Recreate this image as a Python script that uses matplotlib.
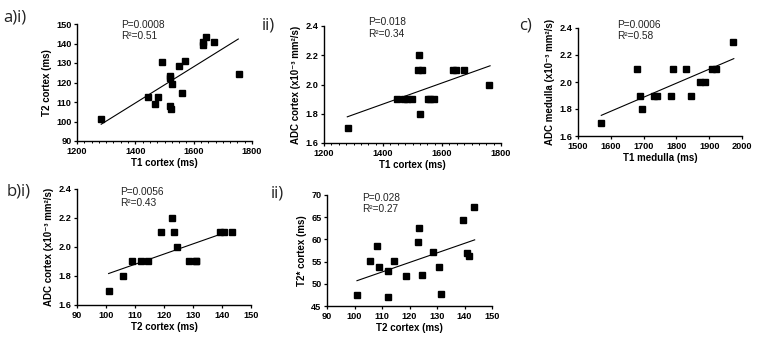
import numpy as np
import matplotlib
matplotlib.use('Agg')
import matplotlib.pyplot as plt
from matplotlib.ticker import MultipleLocator, FormatStrFormatter

plt.rcParams['font.family'] = ['Liberation Sans', 'DejaVu Sans']

# a)i  T1 cortex vs T2 cortex
t1_ai = [1281, 1445, 1469, 1479, 1493, 1518, 1519, 1520, 1522, 1526, 1549, 1560, 1569, 1632, 1633, 1643, 1670, 1754]
t2_ai = [101.2, 112.4, 108.9, 112.4, 130.7, 123.4, 122.5, 108.0, 106.2, 119.0, 128.5, 114.6, 131.1, 140.7, 139.3, 143.3, 140.7, 124.4]
fit_ai_x = [1283, 1753]
fit_ai_y = [98.6, 142.3]

# a)ii  T1 cortex vs ADC cortex
t1_aii = [1282, 1446, 1472, 1480, 1497, 1520, 1521, 1525, 1531, 1551, 1559, 1574, 1636, 1647, 1675, 1759]
adc_aii = [1.7, 1.9, 1.9, 1.9, 1.9, 2.1, 2.2, 1.8, 2.1, 1.9, 1.9, 1.9, 2.1, 2.1, 2.1, 2.0]
fit_aii_x = [1279, 1763]
fit_aii_y = [1.779, 2.128]

# c)  T1 medulla vs ADC medulla
t1_c = [1571, 1681, 1690, 1695, 1732, 1740, 1784, 1791, 1828, 1845, 1871, 1886, 1909, 1920, 1974]
adc_c = [1.7, 2.1, 1.9, 1.8, 1.9, 1.9, 1.9, 2.1, 2.1, 1.9, 2.0, 2.0, 2.1, 2.1, 2.3]
fit_c_x = [1571, 1975]
fit_c_y = [1.753, 2.173]

# b)i  T2 cortex vs ADC cortex
t2_bi = [100.9, 105.9, 108.9, 112.2, 114.4, 118.9, 122.9, 123.3, 124.4, 128.5, 130.9, 131.2, 139.3, 140.8, 143.3]
adc_bi = [1.7, 1.8, 1.9, 1.9, 1.9, 2.1, 2.2, 2.1, 2.0, 1.9, 1.9, 1.9, 2.1, 2.1, 2.1]
fit_bi_x = [100.9, 138.9]
fit_bi_y = [1.817, 2.084]

# b)ii  T2 cortex vs T2* cortex
t2_bii = [100.9, 105.8, 108.1, 108.8, 112.2, 112.1, 114.3, 118.9, 123.0, 123.5, 124.4, 128.4, 130.9, 131.3, 139.4, 141.0, 141.6, 143.5]
t2s_bii = [47.4, 55.1, 58.6, 53.7, 52.8, 47.0, 55.1, 51.7, 59.5, 62.5, 52.0, 57.1, 53.7, 47.7, 64.4, 56.9, 56.2, 67.2]
fit_bii_x = [100.9, 143.7]
fit_bii_y = [50.7, 59.9]

W, H = 766, 345
fig = plt.figure(figsize=(W / 100, H / 100), dpi=100)
fig.patch.set_facecolor('white')

adc_label = 'ADC cortex (x10\u207b\u00b3 mm\u00b2/s)'


def make_axes(x0, x1, y0, y1):
    return fig.add_axes([x0 / W, (H - y1) / H, (x1 - x0) / W, (y1 - y0) / H])


def style(ax, xlim, xstep, ylim, ystep, xlabel, ylabel, yfmt, xminor=None):
    ax.set_xlim(*xlim)
    ax.set_ylim(*ylim)
    ax.xaxis.set_major_locator(MultipleLocator(xstep))
    ax.yaxis.set_major_locator(MultipleLocator(ystep))
    ax.yaxis.set_major_formatter(FormatStrFormatter(yfmt))
    if xminor:
        ax.xaxis.set_minor_locator(MultipleLocator(xminor))
    for s in ['top', 'right']:
        ax.spines[s].set_visible(False)
    for s in ['left', 'bottom']:
        ax.spines[s].set_linewidth(1.0)
    ax.tick_params(which='major', length=2.5, width=0.9, labelsize=6.6, pad=1.5)
    ax.tick_params(which='minor', length=1.5, width=0.7)
    for lab in ax.get_xticklabels() + ax.get_yticklabels():
        lab.set_fontweight('bold')
    ax.set_xlabel(xlabel, fontsize=7, fontweight='bold', labelpad=2)
    ax.set_ylabel(ylabel, fontsize=7, fontweight='bold', labelpad=3)
    ax.patch.set_alpha(0)


def scatter_fit(ax, x, y, fx, fy):
    ax.plot(x, y, 's', color='black', markersize=4.5, clip_on=False)
    ax.plot(fx, fy, '-', color='black', linewidth=0.8)


def stats(ax, xf, p, r2, dy=0.0):
    ax.text(xf, 1.0 + dy, 'P=' + p, transform=ax.transAxes, fontsize=7.3,
            ha='left', va='baseline', color='#222222')
    ax.text(xf, 0.9 + dy, 'R\u00b2=' + r2, transform=ax.transAxes, fontsize=7.3,
            ha='left', va='baseline', color='#222222')


# a)i
ax1 = make_axes(77, 252, 24, 141)
scatter_fit(ax1, t1_ai, t2_ai, fit_ai_x, fit_ai_y)
style(ax1, (1200, 1800), 200, (90, 150), 10, 'T1 cortex (ms)', 'T2 cortex (ms)', '%d', xminor=25)
stats(ax1, 0.25, '0.0008', '0.51', dy=-0.03)

# a)ii
ax2 = make_axes(324, 501, 26, 143)
scatter_fit(ax2, t1_aii, adc_aii, fit_aii_x, fit_aii_y)
style(ax2, (1200, 1800), 200, (1.6, 2.4), 0.2, 'T1 cortex (ms)', adc_label, '%.1f', xminor=25)
stats(ax2, 0.25, '0.018', '0.34', dy=0.01)

# c)
ax3 = make_axes(578, 742, 28, 136)
scatter_fit(ax3, t1_c, adc_c, fit_c_x, fit_c_y)
style(ax3, (1500, 2000), 100, (1.6, 2.4), 0.2, 'T1 medulla (ms)', 'ADC medulla (x10\u207b\u00b3 mm\u00b2/s)', '%.1f')
stats(ax3, 0.236, '0.0006', '0.58', dy=-0.003)

# b)i
ax4 = make_axes(77, 251, 189, 305)
scatter_fit(ax4, t2_bi, adc_bi, fit_bi_x, fit_bi_y)
style(ax4, (90, 150), 10, (1.6, 2.4), 0.2, 'T2 cortex (ms)', adc_label, '%.1f')
stats(ax4, 0.247, '0.0056', '0.43', dy=-0.05)

# b)ii
ax5 = make_axes(327, 492, 195, 306)
scatter_fit(ax5, t2_bii, t2s_bii, fit_bii_x, fit_bii_y)
style(ax5, (90, 150), 10, (45, 70), 5, 'T2 cortex (ms)', 'T2* cortex (ms)', '%d')
stats(ax5, 0.21, '0.028', '0.27', dy=-0.05)

# panel labels
for txt, x, y in [('a)i)', 3, 22), ('ii)', 262, 29), ('c)', 519, 29),
                  ('b)i)', 7, 195), ('ii)', 271, 198)]:
    fig.text(x / W, (H - y) / H, txt, fontsize=12, ha='left', va='baseline',
             family=['Open Sans', 'DejaVu Sans'], color='#222222')

fig.savefig('out.png', dpi=100, facecolor='white')
